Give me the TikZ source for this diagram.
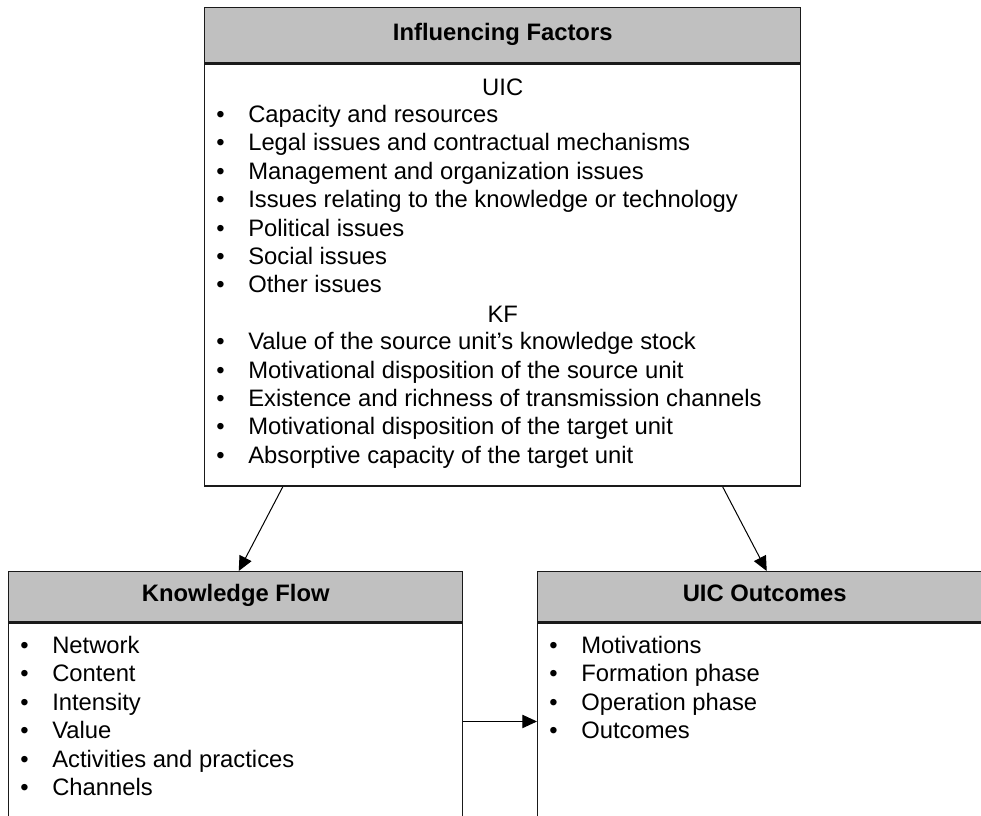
\documentclass[tikz,border=0pt]{standalone}
\usepackage{fontspec}
\setmainfont{Liberation Sans}
\usetikzlibrary{arrows.meta, calc, positioning}
\definecolor{headcol}{HTML}{C0C0C0}
\definecolor{linecol}{HTML}{1A1A1A}

\begin{document}
\begin{tikzpicture}[
    x=0.75pt, y=-0.75pt,
    every node/.style={font=\fontsize{17.85}{21}\selectfont},
    head/.style={draw=linecol, fill=headcol, line width=1.1pt, inner sep=0pt,
                 text height=0.72em, text depth=0pt,
                 anchor=north west, font=\fontsize{17.85}{21}\selectfont\bfseries},
    body/.style={draw=linecol, line width=1.1pt, inner sep=0pt, anchor=north},
    item/.style={anchor=base west, inner sep=0pt},
    conn/.style={-{Triangle[length=11pt, width=10pt]}, line width=0.75pt}
  ]

  \useasboundingbox (0,0) rectangle (981,815);
  \clip (0,0) rectangle (981,815);

  % ---- Influencing factors (top) ----
  \node[head, minimum width=447pt, minimum height=41.25pt] (facthead) at (204,7)
    {Influencing Factors};
  \node[body, minimum width=447pt, minimum height=316.5pt] (factbody)
    at (facthead.south) {};

  \node (uic) at ($(factbody.north)+(0,24)$) {UIC};
  \foreach \t [count=\i] in {Capacity and resources,
      Legal issues and contractual mechanisms,
      Management and organization issues,
      Issues relating to the knowledge or technology,
      Political issues, Social issues, Other issues} {
    \node[item] (uicb-\i) at (216, 94+\i*28.4) {\textbullet};
    \node[item] (uict-\i) at (248, 94+\i*28.4) {\t};
  }

  \node (kf) at ($(factbody.north)+(0,24+8*28.4)$) {KF};
  \foreach \t [count=\i] in {Value of the source unit’s knowledge stock,
      Motivational disposition of the source unit,
      Existence and richness of transmission channels,
      Motivational disposition of the target unit,
      Absorptive capacity of the target unit} {
    \node[item] (kfb-\i) at (216, 94+8*28.4+\i*28.4) {\textbullet};
    \node[item] (kft-\i) at (248, 94+8*28.4+\i*28.4) {\t};
  }

  % ---- Knowledge flow (bottom left) ----
  \node[head, minimum width=340.5pt, minimum height=37.5pt] (flowhead) at (8,571)
    {Knowledge Flow};
  \node[body, minimum width=340.5pt, minimum height=195pt] (flowbody)
    at (flowhead.south) {};
  \foreach \t [count=\i] in {Network, Content, Intensity, Value,
      Activities and practices, Channels} {
    \node[item] (flowb-\i) at (20, 625+\i*28.4) {\textbullet};
    \node[item] (flowt-\i) at (52, 625+\i*28.4) {\t};
  }

  % ---- UIC outcomes (bottom right) ----
  \node[head, minimum width=340.5pt, minimum height=37.5pt] (outhead) at (537,571)
    {UIC Outcomes};
  \node[body, minimum width=340.5pt, minimum height=195pt] (outbody)
    at (outhead.south) {};
  \foreach \t [count=\i] in {Motivations, Formation phase, Operation phase,
      Outcomes} {
    \node[item] (outb-\i) at (549, 625+\i*28.4) {\textbullet};
    \node[item] (outt-\i) at (581, 625+\i*28.4) {\t};
  }

  % ---- Arrows ----
  \draw[conn] ($(factbody.south)+(-220,0)$) -- ($(flowhead.north)+(3,0)$);
  \draw[conn] ($(factbody.south)+(220,0)$) -- ($(outhead.north)+(2,0)$);
  \draw[conn] ($(flowhead.south east)+(0,99)$) -- ($(outhead.south west)+(0,99)$);

\end{tikzpicture}
\end{document}
